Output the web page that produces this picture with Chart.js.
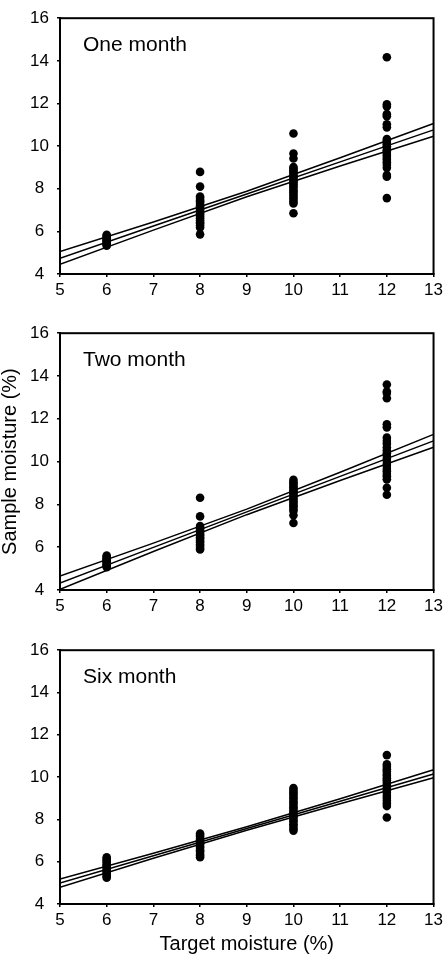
<!DOCTYPE html>
<html>
<head>
<meta charset="utf-8">
<script src="https://cdn.jsdelivr.net/npm/chart.js@4.4.0/dist/chart.umd.min.js"></script>
<style>
  body { margin: 0; background: #fff; }
  .panel { position: absolute; left: 0; width: 446px; }
</style>
</head>
<body>
<div class="panel" style="top:0;height:304px"><canvas id="oneMonth"></canvas></div>
<div class="panel" style="top:315px;height:305px"><canvas id="twoMonth"></canvas></div>
<div class="panel" style="top:632px;height:324px"><canvas id="sixMonth"></canvas></div>
<script>
// target moisture levels (x) and the x values where the fit lines are read
const targetLevels = [6, 8, 10, 12];
const fitX = [5, 7, 9, 11, 13];

// One month
const oneMonth6 = [5.33, 5.38, 5.42, 5.47, 5.53, 5.58, 5.62, 5.68, 5.73, 5.79, 5.84];
const oneMonth8 = [8.79, 8.10, 7.63, 7.56, 7.47, 7.41, 7.33, 7.24, 7.18, 7.08, 7.01, 6.93, 6.84, 6.77, 6.68, 6.61, 6.52, 6.43, 6.37, 6.27, 6.18, 5.86];
const oneMonth10 = [10.59, 9.65, 9.42, 9.02, 8.95, 8.86, 8.79, 8.70, 8.61, 8.55, 8.46, 8.37, 8.30, 8.21, 8.12, 8.03, 7.92, 7.84, 7.73, 7.62, 7.53, 7.41, 7.31, 6.85];
const oneMonth12 = [14.17, 11.96, 11.86, 11.50, 11.40, 11.02, 10.88, 10.33, 10.26, 10.16, 10.09, 9.99, 9.92, 9.81, 9.74, 9.63, 9.55, 9.44, 9.36, 9.24, 9.12, 8.98, 8.64, 8.56, 7.56];
const oneMonthFit = [4.74, 6.25, 7.75, 9.26, 10.76];
const oneMonthUpper = [5.05, 6.44, 7.88, 9.45, 11.06];
const oneMonthLower = [4.45, 6.06, 7.62, 9.07, 10.46];

// Two month
const twoMonth6 = [5.07, 5.12, 5.18, 5.22, 5.28, 5.34, 5.39, 5.44, 5.50, 5.55, 5.61];
const twoMonth8 = [8.31, 7.44, 6.99, 6.91, 6.86, 6.77, 6.71, 6.62, 6.56, 6.46, 6.40, 6.31, 6.23, 6.13, 6.06, 5.96, 5.89];
const twoMonth10 = [9.15, 9.04, 8.97, 8.86, 8.79, 8.68, 8.61, 8.52, 8.43, 8.35, 8.25, 8.16, 8.08, 7.97, 7.90, 7.79, 7.70, 7.49, 7.13];
const twoMonth12 = [13.60, 13.27, 13.21, 12.96, 11.74, 11.60, 11.12, 10.96, 10.83, 10.66, 10.52, 10.39, 10.27, 10.13, 10.03, 9.89, 9.79, 9.65, 9.55, 9.42, 9.31, 9.17, 8.78, 8.45];
const twoMonthFit = [4.33, 5.99, 7.65, 9.31, 10.97];
const twoMonthUpper = [4.65, 6.19, 7.78, 9.50, 11.27];
const twoMonthLower = [4.03, 5.80, 7.52, 9.12, 10.67];

// Six month
const sixMonth6 = [5.24, 5.31, 5.39, 5.47, 5.55, 5.66, 5.73, 5.81, 5.87, 5.97, 6.05, 6.13, 6.21];
const sixMonth8 = [6.21, 6.29, 6.36, 6.47, 6.54, 6.65, 6.72, 6.83, 6.90, 7.01, 7.08, 7.19, 7.26, 7.33];
const sixMonth10 = [7.47, 7.57, 7.69, 7.77, 7.89, 7.97, 8.09, 8.17, 8.29, 8.37, 8.49, 8.57, 8.68, 8.79, 8.87, 8.99, 9.07, 9.19, 9.28, 9.39, 9.48];
const sixMonth12 = [11.04, 10.60, 10.49, 10.37, 10.27, 10.15, 10.06, 9.94, 9.85, 9.73, 9.61, 9.50, 9.37, 9.26, 9.12, 9.01, 8.88, 8.75, 8.63, 8.09];
const sixMonthFit = [4.99, 6.28, 7.57, 8.86, 10.15];
const sixMonthUpper = [5.18, 6.40, 7.65, 8.98, 10.35];
const sixMonthLower = [4.79, 6.16, 7.49, 8.74, 9.97];

const FONT = '"Liberation Sans", Arial, sans-serif';

// box around the plot area
const frame = {
    id: 'frame',
    afterDraw(chart) {
        const { ctx, chartArea } = chart;
        ctx.save();
        ctx.strokeStyle = '#000';
        ctx.lineWidth = 2;
        ctx.strokeRect(chartArea.left, chartArea.top, chartArea.right - chartArea.left, chartArea.bottom - chartArea.top);
        ctx.restore();
    }
};

// "One month" etc. inside the top left of each panel
const panelLabel = {
    id: 'panelLabel',
    afterDraw(chart, args, opts) {
        const { ctx, chartArea } = chart;
        ctx.save();
        ctx.font = '21px ' + FONT;
        ctx.fillStyle = '#000';
        ctx.textBaseline = 'alphabetic';
        ctx.fillText(opts.text, chartArea.left + 23, chartArea.top + 33);
        ctx.restore();
    }
};

const toPoints = (groups) => {
    const pts = [];
    targetLevels.forEach((t, i) => groups[i].forEach(v => pts.push({ x: t, y: v })));
    return pts;
};

const lineSet = (ys) => ({
    data: fitX.map((x, i) => ({ x: x, y: ys[i] })),
    showLine: true,
    borderColor: '#000',
    borderWidth: 1.5,
    pointRadius: 0,
    tension: 0,
    fill: false
});

const makePanel = (id, title, groups, fit, upper, lower, cfg) => {
    new Chart(document.getElementById(id), {
        type: 'scatter',
        data: {
            datasets: [
                {
                    data: toPoints(groups),
                    pointRadius: 4.3,
                    pointBackgroundColor: '#000',
                    pointBorderWidth: 0
                },
                lineSet(upper),
                lineSet(fit),
                lineSet(lower)
            ]
        },
        options: {
            responsive: true,
            maintainAspectRatio: false,
            animation: false,
            layout: { padding: { top: 11, right: cfg.padRight, bottom: 0, left: 0 } },
            plugins: {
                legend: { display: false },
                tooltip: { enabled: false },
                panelLabel: { text: title }
            },
            scales: {
                x: {
                    type: 'linear',
                    min: 5,
                    max: 13,
                    ticks: { stepSize: 1, color: '#000', font: { family: FONT, size: 17 }, padding: 3, maxRotation: 0 },
                    grid: { drawOnChartArea: false, drawTicks: true, tickLength: 3, color: '#000', lineWidth: 1.5 },
                    border: { display: true, color: '#000', width: 2 },
                    title: {
                        display: !!cfg.xTitle,
                        text: cfg.xTitle || '',
                        color: '#000',
                        font: { family: FONT, size: 20 },
                        padding: 0
                    },
                    afterFit(scale) { scale.height = cfg.xHeight; }
                },
                y: {
                    min: 4,
                    max: 16,
                    ticks: { stepSize: 2, color: '#000', font: { family: FONT, size: 17 }, padding: 8, crossAlign: 'center' },
                    grid: { drawOnChartArea: false, drawTicks: true, tickLength: 3, color: '#000', lineWidth: 1.5 },
                    border: { display: true, color: '#000', width: 2 },
                    title: {
                        display: !!cfg.yTitle,
                        text: cfg.yTitle || '',
                        color: '#000',
                        font: { family: FONT, size: 20, lineHeight: 1 },
                        padding: 0
                    },
                    afterFit(scale) { scale.width = 60; }
                }
            }
        },
        plugins: [frame, panelLabel]
    });
};

makePanel('oneMonth', 'One month', [oneMonth6, oneMonth8, oneMonth10, oneMonth12],
    oneMonthFit, oneMonthUpper, oneMonthLower, { xHeight: 30, padRight: 11 });
makePanel('twoMonth', 'Two month', [twoMonth6, twoMonth8, twoMonth10, twoMonth12],
    twoMonthFit, twoMonthUpper, twoMonthLower, { xHeight: 30, padRight: 11, yTitle: 'Sample moisture (%)' });
makePanel('sixMonth', 'Six month', [sixMonth6, sixMonth8, sixMonth10, sixMonth12],
    sixMonthFit, sixMonthUpper, sixMonthLower, { xHeight: 52, padRight: 9, xTitle: 'Target moisture (%)' });
</script>
</body>
</html>
